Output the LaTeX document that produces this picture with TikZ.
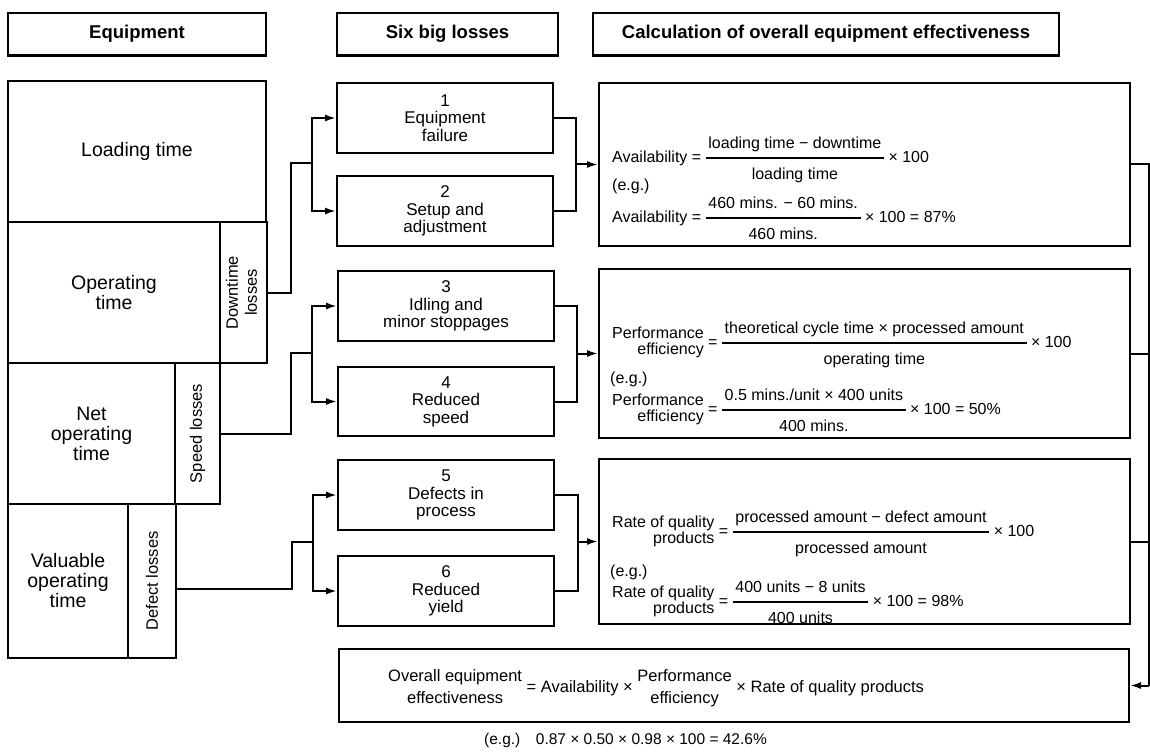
\documentclass[tikz,border=0pt]{standalone}
\usepackage{graphicx}
\usepackage{fontspec}
\setmainfont{Liberation Sans}
\usetikzlibrary{arrows.meta}

\newcommand{\frc}[2]{{\renewcommand{\arraystretch}{1.75}\setlength{\arrayrulewidth}{1.3pt}%
  \begin{tabular}[c]{@{\,}c@{\,}}#1\\\hline #2\end{tabular}}}
\newcommand{\two}[3][c]{{\renewcommand{\arraystretch}{0.85}%
  \begin{tabular}[c]{@{}#1@{}}#2\\#3\end{tabular}}}
\newcommand{\pair}[2]{{\renewcommand{\arraystretch}{1.3}%
  \begin{tabular}[c]{@{}c@{}}#1\\#2\end{tabular}}}

\tikzset{
  box/.style={draw, line width=2pt, anchor=north west, inner sep=0pt, align=center},
  head/.style={box, minimum height=42pt, font=\bfseries\fontsize{18.5}{21}\selectfont},
  eqp/.style={box, font=\fontsize{19.5}{20}\selectfont},
  side/.style={box, font=\fontsize{16.5}{19}\selectfont},
  loss/.style={box, minimum width=216pt, minimum height=70pt, font=\fontsize{17}{17.5}\selectfont},
  calc/.style={box, minimum width=531pt},
  formula/.style={anchor=west, inner sep=0pt, font=\fontsize{16}{17}\selectfont},
  link/.style={line width=2pt},
  arr/.style={link, -{Latex[length=11pt,width=7pt]}},
}

\begin{document}
\begin{tikzpicture}[x=1pt, y=-1pt]
  \useasboundingbox (0,0) rectangle (1150,754);

  % headers
  \node[head, minimum width=258pt] (hEq) at (7,12) {Equipment};
  \node[head, minimum width=221pt] (hLoss) at (336,12) {Six big losses};
  \node[head, minimum width=466pt] (hCalc) at (592,12) {Calculation of overall equipment effectiveness};
  \foreach \h in {hEq,hLoss,hCalc}
    \draw[line width=3pt] (\h.south west) -- (\h.south east);

  % equipment column
  \node[eqp, minimum width=258pt, minimum height=141pt] (load) at (7,80) {Loading time};
  \node[eqp, minimum width=212pt, minimum height=141pt] (oper) at (7,221) {Operating\\time};
  \node[side, minimum width=47pt, minimum height=141pt] (down) at (219,221)
    {\rotatebox{90}{\begin{tabular}{@{}c@{}}Downtime\\losses\end{tabular}}};
  \node[eqp, minimum width=167pt, minimum height=141pt] (net) at (7,362) {Net\\operating\\time};
  \node[side, minimum width=45pt, minimum height=141pt] (speed) at (174,362) {\rotatebox{90}{Speed losses}};
  \node[eqp, minimum width=120pt, minimum height=154pt] (valu) at (7,503) {Valuable\\operating\\time};
  \node[side, minimum width=48pt, minimum height=154pt] (defect) at (127,503) {\rotatebox{90}{Defect losses}};

  % six big losses
  \node[loss] (l1) at (336,82) {1\\Equipment\\failure};
  \node[loss] (l2) at (336,175) {2\\Setup and\\adjustment};
  \node[loss] (l3) at (337,270) {3\\Idling and\\minor stoppages};
  \node[loss, minimum height=69pt] (l4) at (337,366) {4\\Reduced\\speed};
  \node[loss] (l5) at (337,459) {5\\Defects in\\process};
  \node[loss] (l6) at (337,555) {6\\Reduced\\yield};

  % calculation boxes
  \node[calc, minimum height=163pt] (avail) at (598,82) {};
  \node[calc, minimum height=169pt] (perf) at (598,268) {};
  \node[calc, minimum height=165pt] (qual) at (598,458) {};
  \node[box, minimum width=790pt, minimum height=73pt] (oee) at (338,648) {};

  \node[formula] (a1) at (612,158) {Availability = \frc{loading time − downtime}{loading time} × 100};
  \node[formula] (a2) at (612,186) {(e.g.)};
  \node[formula] (a3) at (612,218) {Availability = \frc{460 mins. − 60 mins.}{460 mins.} × 100 = 87\%};

  \node[formula] (p1) at (612,343) {\two[r]{Performance}{efficiency} = \frc{theoretical cycle time × processed amount}{operating time} × 100};
  \node[formula] (p2) at (610,379) {(e.g.)};
  \node[formula] (p3) at (612,410) {\two[r]{Performance}{efficiency} = \frc{0.5 mins./unit × 400 units}{400 mins.} × 100 = 50\%};

  \node[formula] (q1) at (612,532) {\two[r]{Rate of quality}{products} = \frc{processed amount − defect amount}{processed amount} × 100};
  \node[formula] (q2) at (610,572) {(e.g.)};
  \node[formula] (q3) at (612,602) {\two[r]{Rate of quality}{products} = \frc{400 units − 8 units}{400 units} × 100 = 98\%};

  \node[formula, font=\fontsize{16.5}{17}\selectfont] (o1) at (388,688) {\pair{Overall equipment}{effectiveness} = Availability × \pair{Performance}{efficiency} × Rate of quality products};
  \node[formula, font=\fontsize{15.5}{16}\selectfont] (o2) at (484,740) {(e.g.)\quad 0.87 × 0.50 × 0.98 × 100 = 42.6\%};

  % connectors into the losses
  \coordinate (jA) at (312,163);
  \coordinate (jB) at (312,353);
  \coordinate (jC) at (313,542);
  \draw[link] (down.east) -- ++(23,0) |- (jA);
  \draw[arr] (jA) |- (l1.west);
  \draw[arr] (jA) |- (l2.west);
  \draw[link] (speed.east) -- ++(70,0) |- (jB);
  \draw[arr] (jB) |- (l3.west);
  \draw[arr] (jB) |- (l4.west);
  \draw[link] ([yshift=-8pt]defect.east) -- ++(115,0) |- (jC);
  \draw[arr] (jC) |- (l5.west);
  \draw[arr] (jC) |- (l6.west);

  % connectors into the calculations
  \coordinate (mA) at ([xshift=-22pt]avail.west);
  \coordinate (mB) at ([xshift=-21pt]perf.west);
  \coordinate (mC) at ([xshift=-20pt]qual.west);
  \draw[link] (l1.east) -| (mA) |- (l2.east);
  \draw[arr] (mA) -- (avail.west);
  \draw[link] (l3.east) -| (mB) |- (l4.east);
  \draw[arr] (mB) -- (perf.west);
  \draw[link] (l5.east) -| (mC) |- (l6.east);
  \draw[arr] (mC) -- (qual.west);

  % right side down to the overall box
  \coordinate (rD) at ([xshift=19pt]oee.east);
  \draw[link] (avail.east) -| (rD);
  \draw[link] (perf.east) -- (perf.east -| rD);
  \draw[link] (qual.east) -- (qual.east -| rD);
  \draw[arr] (rD) -- (oee.east);
\end{tikzpicture}
\end{document}
